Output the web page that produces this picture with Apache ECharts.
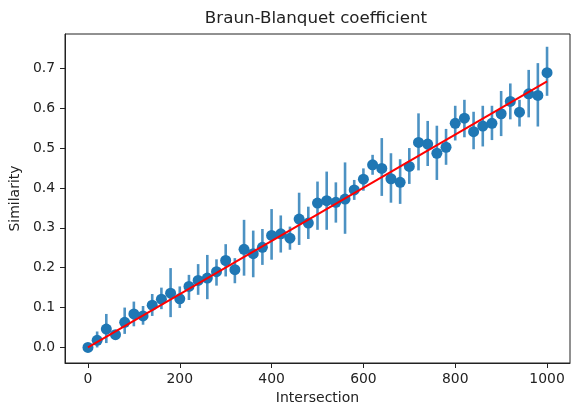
<!DOCTYPE html>
<html>
<head>
<meta charset="utf-8">
<script src="https://cdn.jsdelivr.net/npm/echarts@6/dist/echarts.min.js"></script>
<style>html,body{margin:0;padding:0;background:#fff}#c{width:572px;height:407px}</style>
</head>
<body>
<div id="c"></div>
<script>
const intersection = [0,20,40,60,80,100,120,140,160,180,200,220,240,260,280,300,320,340,360,380,400,420,440,460,480,500,520,540,560,580,600,620,640,660,680,700,720,740,760,780,800,820,840,860,880,900,920,940,960,980,1000];
const similarity = [0.000,0.018,0.046,0.032,0.063,0.084,0.079,0.106,0.121,0.136,0.122,0.153,0.168,0.174,0.190,0.218,0.195,0.246,0.235,0.251,0.281,0.285,0.274,0.322,0.312,0.362,0.368,0.364,0.372,0.395,0.422,0.458,0.449,0.423,0.414,0.454,0.514,0.510,0.487,0.502,0.562,0.575,0.541,0.555,0.562,0.586,0.617,0.590,0.636,0.632,0.689];
const lower = [-0.003,0.000,0.011,0.025,0.034,0.053,0.057,0.079,0.096,0.076,0.099,0.119,0.132,0.121,0.155,0.178,0.161,0.180,0.176,0.207,0.220,0.238,0.245,0.257,0.272,0.295,0.295,0.313,0.285,0.370,0.393,0.433,0.380,0.363,0.360,0.410,0.444,0.455,0.420,0.458,0.519,0.527,0.497,0.504,0.520,0.530,0.572,0.554,0.577,0.554,0.631];
const upper = [0.004,0.040,0.084,0.040,0.100,0.115,0.104,0.134,0.150,0.199,0.153,0.182,0.209,0.232,0.221,0.259,0.224,0.320,0.293,0.297,0.347,0.331,0.303,0.388,0.353,0.416,0.441,0.414,0.464,0.420,0.449,0.483,0.525,0.487,0.472,0.500,0.587,0.568,0.556,0.548,0.606,0.621,0.591,0.606,0.606,0.643,0.662,0.621,0.696,0.713,0.754];
const fitX = [0, 1000];
const fitY = [0, 0.667];
const xTicks = [0,200,400,600,800,1000];
const yTicks = [0,0.1,0.2,0.3,0.4,0.5,0.6,0.7];

const FONT = 'DejaVu Sans';
const chart = echarts.init(document.getElementById('c'), null, {renderer:'canvas'});
const errData = intersection.map((x,i)=>[x, lower[i], upper[i]]);
const ptData = intersection.map((x,i)=>[x, similarity[i]]);
const fitData = fitX.map((x,i)=>[x, fitY[i]]);

chart.setOption({
  animation:false,
  backgroundColor:'#fff',
  title:{text:'Braun-Blanquet coefficient', left:311, top:5, textAlign:'center',
    textStyle:{fontFamily:FONT, fontSize:16.7, fontWeight:'normal', color:'#222'}},
  grid:{left:65, top:34, width:505, height:329, show:true, borderColor:'#222', borderWidth:1,
    backgroundColor:'transparent', containLabel:false, outerBoundsMode:'none'},
  xAxis:{type:'value', min:-50, max:1050,
    name:'Intersection', nameLocation:'middle', nameGap:27,
    nameTextStyle:{fontFamily:FONT, fontSize:14, color:'#222'},
    axisLine:{show:true, onZero:false, lineStyle:{color:'#222', width:1}},
    axisTick:{show:true, length:5, customValues:xTicks, lineStyle:{color:'#222'}},
    axisLabel:{customValues:xTicks, margin:9, fontFamily:FONT, fontSize:13.9, color:'#222',
      formatter:v=>String(Math.round(v))},
    splitLine:{show:false}},
  yAxis:{type:'value', min:-0.039, max:0.786,
    name:'Similarity', nameLocation:'middle', nameGap:43,
    nameTextStyle:{fontFamily:FONT, fontSize:14, color:'#222'},
    axisLine:{show:true, onZero:false, lineStyle:{color:'#222', width:1}},
    axisTick:{show:true, length:5, customValues:yTicks, lineStyle:{color:'#222'}},
    axisLabel:{customValues:yTicks, margin:10, fontFamily:FONT, fontSize:13.9, color:'#222',
      formatter:v=>v.toFixed(1)},
    splitLine:{show:false}},
  series:[
    {type:'custom', data:errData, z:2,
      renderItem:(params, api)=>{
        const x=api.value(0), lo=api.value(1), hi=api.value(2);
        const a=api.coord([x,lo]), b=api.coord([x,hi]);
        return {type:'line', shape:{x1:a[0],y1:a[1],x2:b[0],y2:b[1]},
          style:{stroke:'#1f77b4', lineWidth:2.6, opacity:0.8}};
      }},
    {type:'scatter', data:ptData, symbol:'circle', symbolSize:11, z:3,
      itemStyle:{color:'#1f77b4', opacity:1}},
    {type:'line', data:fitData, symbol:'none', z:4,
      lineStyle:{color:'#ff0000', width:2}}
  ]
});
</script>
</body>
</html>
